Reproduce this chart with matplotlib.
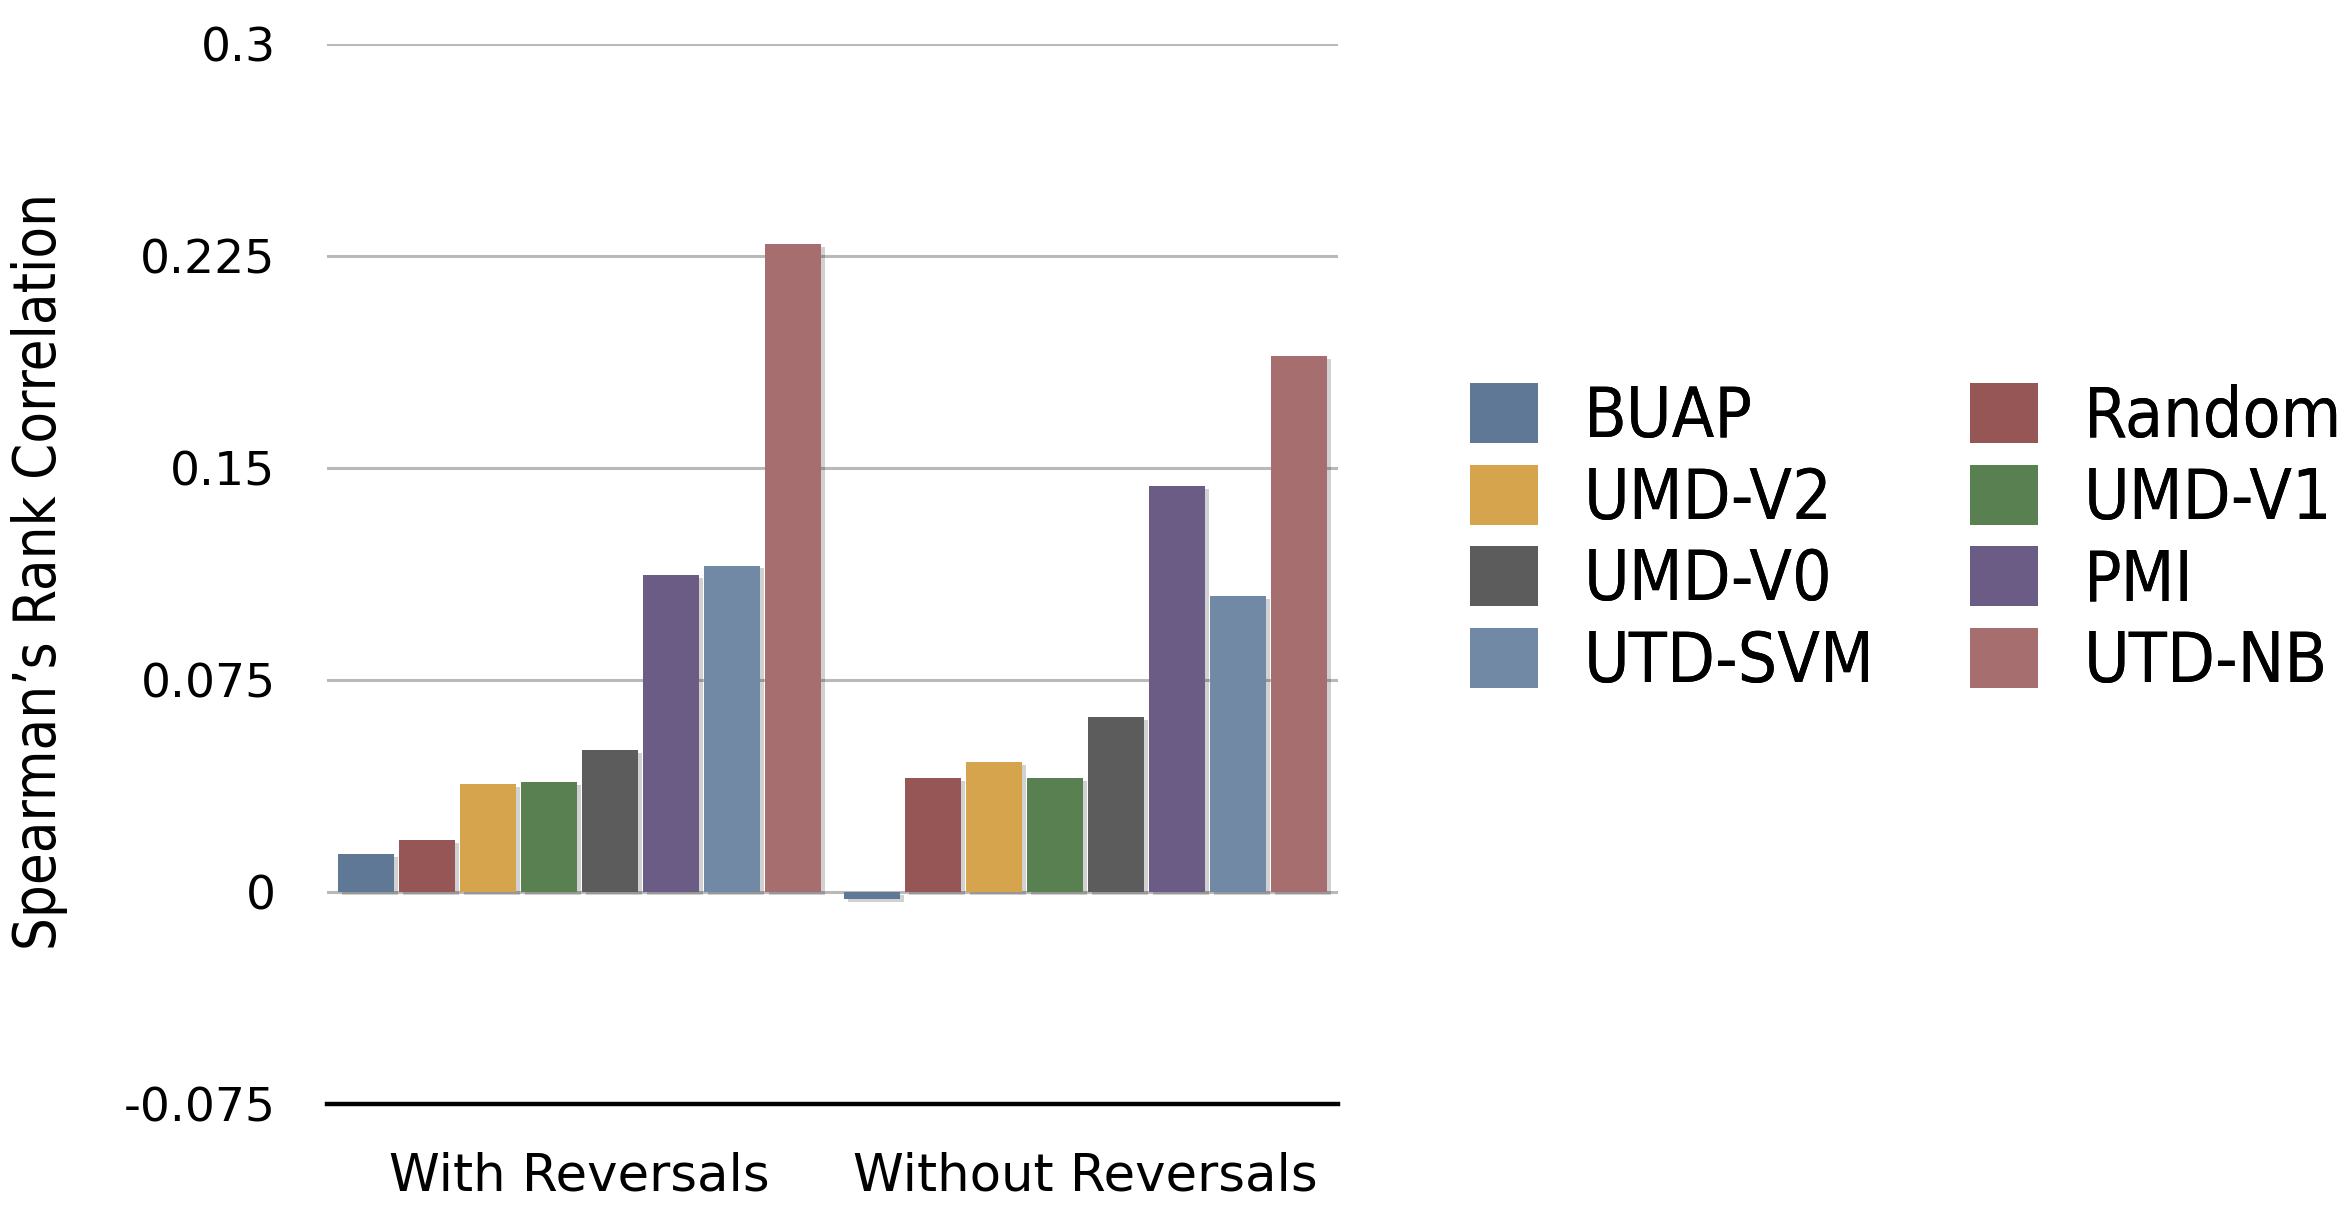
import matplotlib
matplotlib.use("Agg")
import matplotlib.pyplot as plt
import matplotlib.patheffects as pe
from matplotlib.font_manager import FontProperties
import numpy as np

# Data
groups = ["With Reversals", "Without Reversals"]
systems = ["BUAP", "Random", "UMD-V2", "UMD-V1", "UMD-V0", "PMI", "UTD-SVM", "UTD-NB"]
with_rev = [0.0133, 0.0184, 0.0382, 0.0389, 0.0503, 0.1121, 0.1155, 0.2292]
without_rev = [-0.0025, 0.0403, 0.0459, 0.0403, 0.0619, 0.1436, 0.1046, 0.1897]
colors = ["#5e7896", "#965656", "#d6a44c", "#588050", "#5c5c5c", "#6a5c84", "#7289a5", "#a66e6e"]
yticks = [-0.075, 0, 0.075, 0.15, 0.225, 0.3]
ytick_labels = ["-0.075", "0", "0.075", "0.15", "0.225", "0.3"]

W, H = 2351, 1209
fig = plt.figure(figsize=(W / 100, H / 100), dpi=100)
ax = fig.add_axes([327 / W, 1 - 1104 / H, (1338 - 327) / W, (1104 - 44) / H])

x = np.arange(len(groups))
pitch = 0.1207
width = 0.1108
shadow = [pe.SimplePatchShadow(offset=(3, -2), shadow_rgbFace="#000000", alpha=0.18), pe.Normal()]
for i, (name, col) in enumerate(zip(systems, colors)):
    vals = [with_rev[i], without_rev[i]]
    offs = (i - (len(systems) - 1) / 2) * pitch
    b = ax.bar(x + offs, vals, width, color=col, label=name, zorder=3, linewidth=0)
    for p in b.patches:
        p.set_path_effects(shadow)

ax.set_xlim(-0.5, 1.5)
ax.set_ylim(-0.075, 0.3)
ax.set_yticks(yticks)
ax.set_yticklabels(ytick_labels)
ax.set_xticks(x)
ax.set_xticklabels(groups)

for y in yticks[1:]:
    ax.axhline(y, color="#b9b9b9", lw=2.2, zorder=1)
ax.axhline(-0.075, color="#000000", lw=3.2, zorder=4, clip_on=False)

for s in ax.spines.values():
    s.set_visible(False)
ax.tick_params(axis="both", length=0)
ax.tick_params(axis="y", pad=37, labelsize=34)
ax.tick_params(axis="x", pad=34, labelsize=37)

narrow = dict(family="DejaVu Sans", stretch="condensed")

# Axis title placed in figure coordinates
fig.text(40 / W, 1 - 572 / H, "Spearman\u2019s Rank Correlation", rotation=90,
         ha="center", va="center", fontsize=41.5, **narrow)

handles, labels = ax.get_legend_handles_labels()
legend_font = FontProperties(size=50, **narrow)
common = dict(loc="upper left", frameon=False, prop=legend_font,
              handlelength=0.98, handleheight=0.95, handletextpad=0.66,
              labelspacing=0.2, borderaxespad=0, borderpad=0)
for cols, x0 in (([0, 2, 4, 6], 1470), ([1, 3, 5, 7], 1970)):
    leg = fig.legend([handles[k] for k in cols], [labels[k] for k in cols],
                     bbox_to_anchor=(x0 / W, 1 - 383 / H), **common)
    for h in leg.legend_handles:
        h.set_path_effects([])
    fig.add_artist(leg)

fig.savefig("out.png", dpi=100, facecolor="white")
